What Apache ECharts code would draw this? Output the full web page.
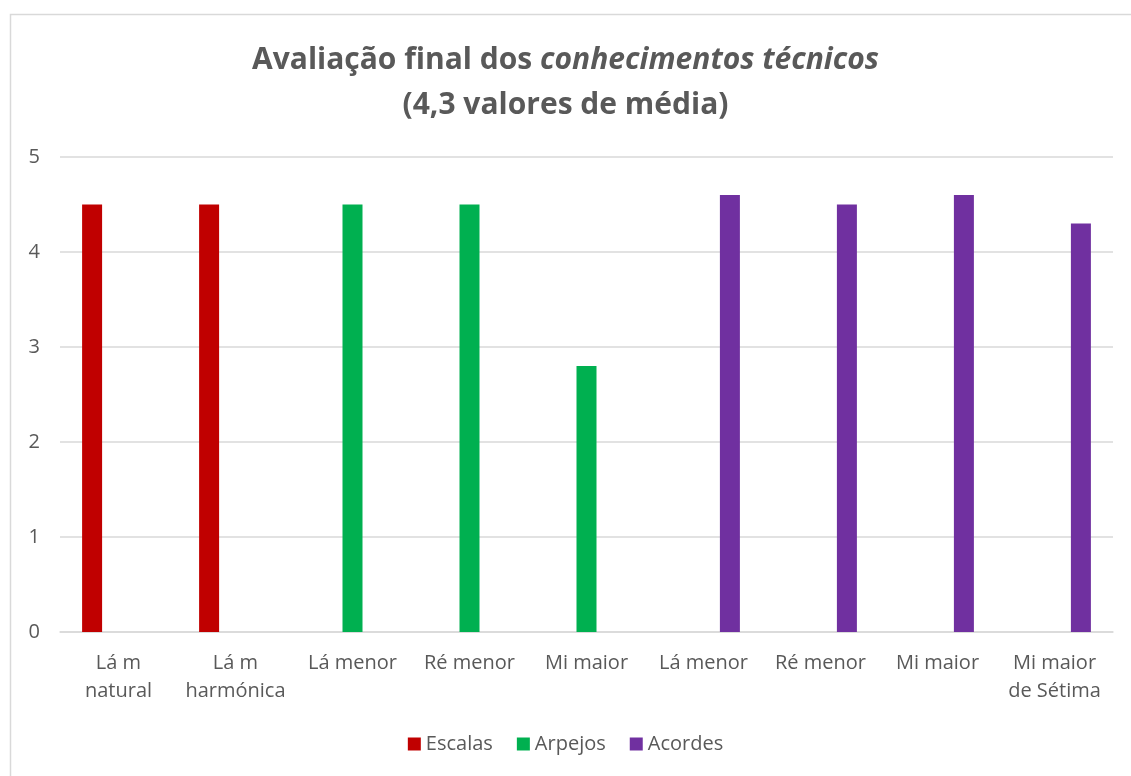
<!DOCTYPE html>
<html>
<head>
<meta charset="UTF-8">
<script src="https://cdn.jsdelivr.net/npm/echarts@6/dist/echarts.min.js"></script>
<style>
  html, body { margin: 0; padding: 0; background: #fff; }
  #main { width: 1131px; height: 776px; }
</style>
</head>
<body>
<div id="main"></div>
<script>
var categories = ['Lá m\nnatural', 'Lá m\nharmónica', 'Lá menor', 'Ré menor', 'Mi maior',
                  'Lá menor', 'Ré menor', 'Mi maior', 'Mi maior\nde Sétima'];
var escalas = [4.5, 4.5, null, null, null, null, null, null, null];
var arpejos = [null, null, 4.5, 4.5, 2.8, null, null, null, null];
var acordes = [null, null, null, null, null, 4.6, 4.5, 4.6, 4.3];

var font = '"Open Sans", "Noto Sans", sans-serif';
var grey = '#595959';

var chart = echarts.init(document.getElementById('main'));

chart.setOption({
  animation: false,
  graphic: [{
    type: 'rect',
    left: 8, top: 12,
    shape: { width: 1200, height: 800 },
    style: { fill: 'none', stroke: '#d9d9d9', lineWidth: 1.5 },
    silent: true
  }],
  title: {
    left: 'center',
    top: 33,
    text: '{b|Avaliação final dos }{i|conhecimentos técnicos}\n{b|(4,3 valores de média)}',
    textStyle: {
      rich: {
        b: { fontFamily: font, fontSize: 30, fontWeight: 'bold', color: grey, lineHeight: 45 },
        i: { fontFamily: font, fontSize: 30, fontWeight: 'bold', fontStyle: 'italic', color: grey, lineHeight: 45 }
      }
    }
  },
  grid: { left: 60, right: 18, top: 157, bottom: 144, containLabel: false },
  legend: {
    bottom: 17,
    left: 'center',
    itemWidth: 13, itemHeight: 13, itemGap: 24,
    icon: 'rect',
    textStyle: { fontFamily: font, fontSize: 20, color: grey }
  },
  xAxis: {
    type: 'category',
    data: categories,
    axisLine: { lineStyle: { color: '#d9d9d9', width: 1.5 } },
    axisTick: { show: false },
    axisLabel: { interval: 0, fontFamily: font, fontSize: 20, color: grey, lineHeight: 28, margin: 17 }
  },
  yAxis: {
    type: 'value',
    min: 0, max: 5, interval: 1,
    axisLine: { show: false },
    axisTick: { show: false },
    axisLabel: { fontFamily: font, fontSize: 20, color: grey, margin: 20 },
    splitLine: { lineStyle: { color: '#d9d9d9', width: 1.5 } }
  },
  series: [
    { name: 'Escalas', type: 'bar', data: escalas, barWidth: 20, barGap: '32%', itemStyle: { color: '#c00000' } },
    { name: 'Arpejos', type: 'bar', data: arpejos, barWidth: 20, barGap: '32%', itemStyle: { color: '#00b050' } },
    { name: 'Acordes', type: 'bar', data: acordes, barWidth: 20, barGap: '32%', itemStyle: { color: '#7030a0' } }
  ]
});
</script>
</body>
</html>
